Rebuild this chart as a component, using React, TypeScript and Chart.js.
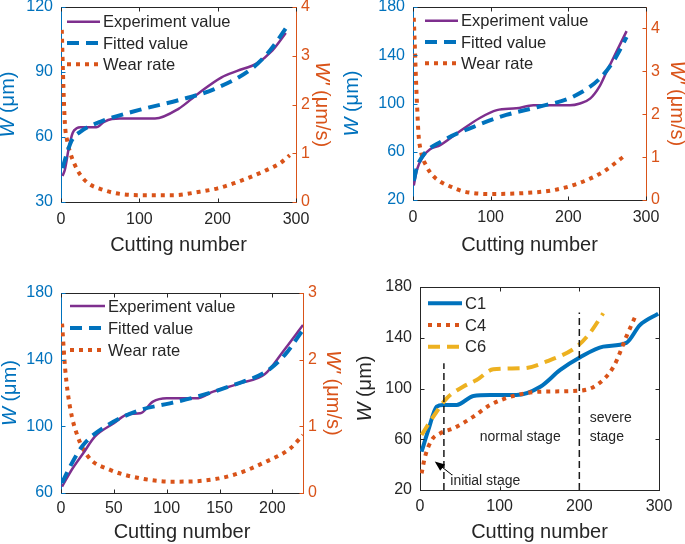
import React, { useEffect, useRef } from 'react';
import { Chart, registerables } from 'chart.js';

Chart.register(...registerables);

const BLUE = '#0072BD';
const ORANGE = '#D95319';
const YELLOW = '#EDB120';
const PURPLE = '#7E2F8E';
const DARK = '#262626';
const FONT = "'Liberation Sans', Arial, Helvetica, sans-serif";

// ---------------- data: panel 1 ----------------
const cut1Exp = [2, 5, 10, 15, 20, 25, 45, 55, 65, 75, 120, 150, 175, 205, 225, 250, 270, 287];
const w1Exp = [42, 45, 55, 62, 64, 64.5, 64.5, 67, 68.3, 68.5, 68.5, 73, 80, 87.5, 90.5, 94, 100, 108];
const cut1Fit = [2, 8, 14, 25, 50, 100, 150, 195, 245, 267, 290];
const w1Fit = [45.6, 53, 58.6, 62.5, 67, 72.5, 77, 82, 92, 100, 111.7];
const cut1Rate = [1, 3, 5, 8, 12, 18, 25, 35, 50, 70, 100, 143, 177, 200, 220, 240, 263, 280, 292];
const r1Rate = [3.53, 2.4, 1.6, 1.25, 1.0, 0.75, 0.55, 0.38, 0.27, 0.18, 0.14, 0.14, 0.21, 0.28, 0.38, 0.5, 0.66, 0.8, 0.96];

// ---------------- data: panel 2 ----------------
const cut2Exp = [1, 5, 13, 22, 35, 56, 86, 108, 133, 155, 180, 202, 215, 228, 240, 249, 262, 275];
const w2Exp = [32, 45, 56, 62, 65.5, 75, 88, 94.5, 96, 98.5, 98.5, 98.5, 100, 104, 114, 126, 143, 160];
const cut2Fit = [1, 5, 15, 35, 78, 120, 163, 206, 241, 260, 275];
const w2Fit = [36, 47, 58.6, 68, 80.7, 90.5, 97.5, 105.6, 121, 137, 155];
const cut2Rate = [1, 2.5, 4, 5.5, 7, 10, 17.6, 25, 35, 50, 65, 99, 142, 181, 215, 245, 271];
const r2Rate = [4.25, 3.5, 2.73, 2.1, 1.56, 1.15, 0.78, 0.58, 0.43, 0.3, 0.2, 0.14, 0.16, 0.23, 0.4, 0.66, 1.01];

// ---------------- data: panel 3 ----------------
const cut3Exp = [1, 10, 21, 32, 50, 64, 75, 87, 100, 128, 144, 169, 193, 210, 229];
const w3Exp = [63.8, 73.8, 83.8, 93.8, 101.8, 107.4, 107.8, 114.8, 116.8, 116.8, 120.8, 125.8, 131.4, 144.8, 160.8];
const cut3Fit = [1, 8.5, 21, 46, 75, 103, 131, 163, 194, 212, 228];
const w3Fit = [66, 75.8, 88.8, 101.4, 109.8, 113.8, 118.2, 124.8, 132.8, 143, 157];
const cut3Rate = [1, 4, 8.5, 16, 26, 46, 75, 106, 131, 163, 194, 217, 229];
const r3Rate = [2.54, 1.85, 1.29, 0.84, 0.54, 0.35, 0.22, 0.17, 0.18, 0.27, 0.47, 0.67, 0.87];

// ---------------- data: panel 4 ----------------
const cutC1 = [2, 10.5, 21, 29, 46, 67, 88, 121, 151, 176, 201, 230, 259, 276, 299];
const wC1 = [50.2, 67.3, 85.7, 87, 87, 94.1, 94.8, 94.8, 101.4, 114.6, 124.6, 133, 136, 150, 159];
const cutC4 = [2, 6.3, 14.7, 25, 42, 67, 88, 117, 151, 201, 222, 243, 259, 272];
const wC4 = [33.1, 46.2, 59.4, 64.6, 68.6, 77.8, 87, 94.1, 97.5, 98.3, 102.8, 117.2, 140.9, 159.3];
const cutC6 = [2, 16.7, 33.5, 54, 71, 92, 130, 159, 197, 213, 230];
const wC6 = [63.4, 77.8, 92.3, 101.4, 106.7, 115.1, 116, 121.3, 133.1, 143.5, 159.3];
const stageCut = [30, 200];
const stageTop = [120, 160];

// ---------------- ticks & labels ----------------
const xTicks300 = [0, 100, 200, 300];
const xTicks230 = [0, 50, 100, 150, 200];
const yTicks1 = [30, 60, 90, 120];
const rTicks1 = [0, 1, 2, 3, 4];
const yTicks2 = [20, 60, 100, 140, 180];
const rTicks2 = [0, 1, 2, 3, 4];
const yTicks3 = [60, 100, 140, 180];
const rTicks3 = [0, 1, 2, 3];
const yTicks4 = [20, 60, 100, 140, 180];
const seriesNames = ['Experiment value', 'Fitted value', 'Wear rate'];
const toolNames = ['C1', 'C4', 'C6'];
const xTitle = 'Cutting number';
const stageNotes = [
  { text: 'normal stage', x: 75, y: 62 },
  { text: 'severe', x: 213, y: 76.5 },
  { text: 'stage', x: 213, y: 62 },
  { text: 'initial stage', x: 38, y: 27 },
];
const arrowNote = { fromX: 40, fromY: 32, toX: 18.5, toY: 42.5 };

// ---------------- helpers ----------------
const pts = (xs: number[], ys: number[]) => xs.map((x, i) => ({ x, y: ys[i] }));

const solid = (label: string | undefined, xs: number[], ys: number[], color: string, width: number, axis = 'y', order = 1) => ({
  label, data: pts(xs, ys), borderColor: color, backgroundColor: color, borderWidth: width,
  pointRadius: 0, cubicInterpolationMode: 'monotone', yAxisID: axis, order, borderCapStyle: 'butt', fill: false,
});
const dashed = (label: string | undefined, xs: number[], ys: number[], color: string, axis = 'y', order = 1) => ({
  ...solid(label, xs, ys, color, 4, axis, order), borderDash: [12, 7],
});
const dotted = (label: string | undefined, xs: number[], ys: number[], color: string, axis = 'y', order = 1) => ({
  ...solid(label, xs, ys, color, 4, axis, order), borderDash: [4, 5],
});

type Panel = {
  left: number; top: number; w: number; h: number;
  padTop: number; padRight: number; leftW: number; rightW: number; xH: number;
  xMax: number; xTicks: number[]; xTickPad: number; xTitlePad: number;
  yMin: number; yMax: number; yTicks: number[]; yColor: string;
  rMax?: number; rTicks?: number[];
  datasets: any[];
  legend: { dx: number; dy: number; gap: number; len: number };
  leftTitleDx: number; rightTitleDx?: number;
  box: boolean;
  notes?: boolean;
};

function drawRich(ctx: CanvasRenderingContext2D, parts: { t: string; it?: boolean }[], x: number, y: number, rot: number, color: string, size: number) {
  ctx.save();
  ctx.translate(x, y);
  ctx.rotate(rot);
  ctx.fillStyle = color;
  ctx.textBaseline = 'middle';
  ctx.textAlign = 'left';
  let total = 0;
  const widths = parts.map((p) => {
    ctx.font = `${p.it ? 'italic ' : ''}${size}px ${FONT}`;
    const w = ctx.measureText(p.t).width;
    total += w;
    return w;
  });
  let cx = -total / 2;
  parts.forEach((p, i) => {
    ctx.font = `${p.it ? 'italic ' : ''}${size}px ${FONT}`;
    ctx.fillText(p.t, cx, 0);
    cx += widths[i];
  });
  ctx.restore();
}

function makePlugins(p: Panel) {
  const frame = {
    id: 'frame',
    afterDraw(chart: any) {
      const { ctx, chartArea: a, scales } = chart;
      const L = 4;
      ctx.save();
      ctx.lineWidth = 1;
      ctx.setLineDash([]);
      const seg = (x1: number, y1: number, x2: number, y2: number, c: string) => {
        ctx.strokeStyle = c;
        ctx.beginPath();
        ctx.moveTo(x1, y1);
        ctx.lineTo(x2, y2);
        ctx.stroke();
      };
      const top = Math.round(a.top) + 0.5;
      const bot = Math.round(a.bottom) + 0.5;
      const lft = Math.round(a.left) + 0.5;
      const rgt = Math.round(a.right) + 0.5;
      seg(a.left, top, a.right, top, DARK);
      if (p.box) seg(rgt, a.top, rgt, a.bottom, DARK);
      p.xTicks.forEach((v) => {
        const px = Math.round(scales.x.getPixelForValue(v)) + 0.5;
        seg(px, bot, px, bot - L, DARK);
        seg(px, top, px, top + L, DARK);
      });
      p.yTicks.forEach((v) => {
        const py = Math.round(scales.y.getPixelForValue(v)) + 0.5;
        seg(lft, py, lft + L, py, p.yColor);
        if (p.box) seg(rgt, py, rgt - L, py, DARK);
      });
      if (p.rTicks && scales.y2) {
        p.rTicks.forEach((v) => {
          const py = Math.round(scales.y2.getPixelForValue(v)) + 0.5;
          seg(rgt, py, rgt - L, py, ORANGE);
        });
      }
      ctx.restore();
    },
  };
  const legend = {
    id: 'customLegend',
    afterDraw(chart: any) {
      const { ctx, chartArea: a } = chart;
      const items = chart.data.datasets.filter((d: any) => d.label);
      ctx.save();
      items.forEach((d: any, i: number) => {
        const y = a.top + p.legend.dy + i * p.legend.gap;
        const x0 = a.left + p.legend.dx;
        ctx.strokeStyle = d.borderColor;
        ctx.lineWidth = d.borderWidth;
        ctx.lineCap = 'butt';
        ctx.setLineDash(d.borderDash || []);
        ctx.beginPath();
        ctx.moveTo(x0, y);
        ctx.lineTo(x0 + p.legend.len, y);
        ctx.stroke();
        ctx.setLineDash([]);
        ctx.fillStyle = DARK;
        ctx.font = `16.5px ${FONT}`;
        ctx.textBaseline = 'middle';
        ctx.textAlign = 'left';
        ctx.fillText(d.label, x0 + p.legend.len + 3, y + 1);
      });
      ctx.restore();
    },
  };
  const titles = {
    id: 'yTitles',
    afterDraw(chart: any) {
      const { ctx, chartArea: a } = chart;
      const cy = (a.top + a.bottom) / 2;
      drawRich(ctx, [{ t: 'W', it: true }, { t: ' (μm)' }], a.left + p.leftTitleDx, cy, -Math.PI / 2, p.yColor, 20);
      if (p.rightTitleDx !== undefined) {
        drawRich(ctx, [{ t: "W'", it: true }, { t: ' (μm/s)' }], a.right + p.rightTitleDx, cy, Math.PI / 2, ORANGE, 20);
      }
    },
  };
  const notes = {
    id: 'notes',
    afterDraw(chart: any) {
      if (!p.notes) return;
      const { ctx, scales } = chart;
      const sx = (v: number) => scales.x.getPixelForValue(v);
      const sy = (v: number) => scales.y.getPixelForValue(v);
      ctx.save();
      ctx.fillStyle = DARK;
      ctx.font = `14px ${FONT}`;
      ctx.textAlign = 'left';
      ctx.textBaseline = 'middle';
      stageNotes.forEach((n) => ctx.fillText(n.text, sx(n.x), sy(n.y)));
      const x1 = sx(arrowNote.fromX), y1 = sy(arrowNote.fromY);
      const x2 = sx(arrowNote.toX), y2 = sy(arrowNote.toY);
      const ang = Math.atan2(y2 - y1, x2 - x1);
      ctx.strokeStyle = '#000';
      ctx.lineWidth = 1;
      ctx.beginPath();
      ctx.moveTo(x1, y1);
      ctx.lineTo(x2 - 6 * Math.cos(ang), y2 - 6 * Math.sin(ang));
      ctx.stroke();
      ctx.fillStyle = '#000';
      ctx.beginPath();
      ctx.moveTo(x2, y2);
      ctx.lineTo(x2 - 10 * Math.cos(ang) + 4 * Math.sin(ang), y2 - 10 * Math.sin(ang) - 4 * Math.cos(ang));
      ctx.lineTo(x2 - 10 * Math.cos(ang) - 4 * Math.sin(ang), y2 - 10 * Math.sin(ang) + 4 * Math.cos(ang));
      ctx.closePath();
      ctx.fill();
      ctx.restore();
    },
  };
  return [frame, legend, titles, notes];
}

function buildConfig(p: Panel): any {
  const tickFont = { family: FONT, size: 16 };
  const fixTicks = (vals: number[]) => (s: any) => {
    s.ticks = vals.map((v) => ({ value: v }));
  };
  const scales: any = {
    x: {
      type: 'linear', min: 0, max: p.xMax,
      afterBuildTicks: fixTicks(p.xTicks),
      afterFit: (s: any) => { s.height = p.xH; s.paddingLeft = 0; s.paddingRight = 0; },
      grid: { display: false, drawTicks: false },
      border: { display: true, color: DARK, width: 1 },
      ticks: { color: DARK, font: tickFont, padding: p.xTickPad, maxRotation: 0, autoSkip: false },
      title: { display: true, text: xTitle, color: DARK, font: { family: FONT, size: 20 }, padding: { top: 0, bottom: p.xTitlePad } },
    },
    y: {
      type: 'linear', position: 'left', min: p.yMin, max: p.yMax,
      afterBuildTicks: fixTicks(p.yTicks),
      afterFit: (s: any) => { s.width = p.leftW; s.paddingTop = 0; s.paddingBottom = 0; },
      grid: { display: false, drawTicks: false },
      border: { display: true, color: p.yColor, width: 1 },
      ticks: { color: p.yColor, font: tickFont, padding: 8, autoSkip: false },
    },
  };
  if (p.rTicks) {
    scales.y2 = {
      type: 'linear', position: 'right', min: 0, max: p.rMax,
      afterBuildTicks: fixTicks(p.rTicks),
      afterFit: (s: any) => { s.width = p.rightW; s.paddingTop = 0; s.paddingBottom = 0; },
      grid: { display: false, drawTicks: false },
      border: { display: true, color: ORANGE, width: 1 },
      ticks: { color: ORANGE, font: tickFont, padding: 5, autoSkip: false },
    };
  }
  return {
    type: 'line',
    data: { datasets: p.datasets },
    options: {
      animation: false,
      responsive: false,
      maintainAspectRatio: false,
      devicePixelRatio: 1,
      parsing: true,
      layout: { padding: { top: p.padTop, right: p.padRight, left: 0, bottom: 0 } },
      plugins: { legend: { display: false }, tooltip: { enabled: false }, title: { display: false } },
      scales,
    },
    plugins: makePlugins(p),
  };
}

const stageLine = (i: number) => ({
  label: undefined,
  data: pts([stageCut[i], stageCut[i]], [20, stageTop[i]]),
  borderColor: '#1a1a1a', borderWidth: 1.5, borderDash: [7, 4], pointRadius: 0, order: 0, yAxisID: 'y',
});

const panels: Panel[] = [
  {
    left: 0, top: 0, w: 342, h: 260, padTop: 7, padRight: 0, leftW: 61, rightW: 46, xH: 58,
    xMax: 300, xTicks: xTicks300, xTickPad: 8, xTitlePad: 3,
    yMin: 30, yMax: 120, yTicks: yTicks1, yColor: BLUE, rMax: 4, rTicks: rTicks1,
    datasets: [
      solid(seriesNames[0], cut1Exp, w1Exp, PURPLE, 2.5, 'y', 2),
      dashed(seriesNames[1], cut1Fit, w1Fit, BLUE, 'y', 1),
      dotted(seriesNames[2], cut1Rate, r1Rate, ORANGE, 'y2', 3),
    ],
    legend: { dx: 6, dy: 14.7, gap: 21.3, len: 33 },
    leftTitleDx: -53, rightTitleDx: 26, box: false,
  },
  {
    left: 342, top: 0, w: 343, h: 260, padTop: 7, padRight: 0, leftW: 71, rightW: 39, xH: 60,
    xMax: 300, xTicks: xTicks300, xTickPad: 8, xTitlePad: 3,
    yMin: 20, yMax: 180, yTicks: yTicks2, yColor: BLUE, rMax: 4.5, rTicks: rTicks2,
    datasets: [
      solid(seriesNames[0], cut2Exp, w2Exp, PURPLE, 2.5, 'y', 2),
      dashed(seriesNames[1], cut2Fit, w2Fit, BLUE, 'y', 1),
      dotted(seriesNames[2], cut2Rate, r2Rate, ORANGE, 'y2', 3),
    ],
    legend: { dx: 12, dy: 13.7, gap: 21.3, len: 33 },
    leftTitleDx: -61, rightTitleDx: 31, box: false,
  },
  {
    left: 0, top: 262, w: 342, h: 282, padTop: 31, padRight: 0, leftW: 61, rightW: 39, xH: 51,
    xMax: 229, xTicks: xTicks230, xTickPad: 6, xTitlePad: 0,
    yMin: 60, yMax: 180, yTicks: yTicks3, yColor: BLUE, rMax: 3, rTicks: rTicks3,
    datasets: [
      solid(seriesNames[0], cut3Exp, w3Exp, PURPLE, 2.5, 'y', 2),
      dashed(seriesNames[1], cut3Fit, w3Fit, BLUE, 'y', 1),
      dotted(seriesNames[2], cut3Rate, r3Rate, ORANGE, 'y2', 3),
    ],
    legend: { dx: 9, dy: 13, gap: 22, len: 35 },
    leftTitleDx: -51, rightTitleDx: 30, box: false,
  },
  {
    left: 342, top: 262, w: 343, h: 282, padTop: 25, padRight: 26, leftW: 78, rightW: 0, xH: 54,
    xMax: 300, xTicks: xTicks300, xTickPad: 7, xTitlePad: 0,
    yMin: 20, yMax: 180, yTicks: yTicks4, yColor: DARK,
    datasets: [
      solid(toolNames[0], cutC1, wC1, BLUE, 4, 'y', 3),
      dotted(toolNames[1], cutC4, wC4, ORANGE, 'y', 2),
      dashed(toolNames[2], cutC6, wC6, YELLOW, 'y', 1),
      stageLine(0),
      stageLine(1),
    ],
    legend: { dx: 8, dy: 16.3, gap: 21.7, len: 34 },
    leftTitleDx: -55, box: true, notes: true,
  },
];

function PanelChart({ p }: { p: Panel }) {
  const ref = useRef<HTMLCanvasElement>(null);
  useEffect(() => {
    if (!ref.current) return;
    const chart = new Chart(ref.current, buildConfig(p));
    return () => chart.destroy();
  }, [p]);
  return (
    <canvas
      ref={ref}
      width={p.w}
      height={p.h}
      style={{ position: 'absolute', left: p.left, top: p.top, width: p.w, height: p.h }}
    />
  );
}

export default function App() {
  return (
    <div style={{ position: 'fixed', left: 0, top: 0, width: 685, height: 544, background: '#fff', overflow: 'hidden' }}>
      {panels.map((p, i) => (
        <PanelChart key={i} p={p} />
      ))}
    </div>
  );
}
